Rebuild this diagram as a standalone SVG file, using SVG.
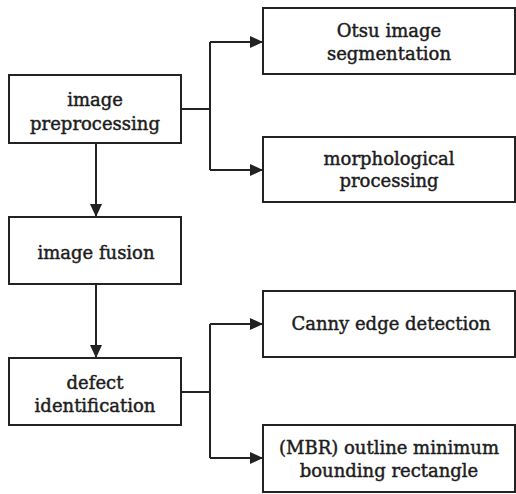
<svg xmlns="http://www.w3.org/2000/svg" width="516" height="494" viewBox="0 0 516 494">
  <style>
    .box { fill: #fff; stroke: #222; stroke-width: 2; }
    .lbl { font-family: "DejaVu Serif", "Liberation Serif", serif; font-size: 18px; fill: #1c1c1c; stroke: #1c1c1c; stroke-width: 0.45; text-anchor: middle; }
    .wire { fill: none; stroke: #222; stroke-width: 2; }
  </style>
  <defs>
    <marker id="arrow" markerUnits="userSpaceOnUse" markerWidth="14" markerHeight="12" refX="13" refY="6" orient="auto">
      <path d="M0,0 L13,6 L0,12 Z" fill="#222"/>
    </marker>
  </defs>
  <rect width="516" height="494" fill="#fff"/>

  <g id="connectors">
    <!-- preprocessing branches -->
    <path class="wire" d="M181,109 H210"/>
    <path class="wire" d="M210,42 V170"/>
    <path class="wire" d="M210,42 H263" marker-end="url(#arrow)"/>
    <path class="wire" d="M210,170 H263" marker-end="url(#arrow)"/>
    <!-- main flow -->
    <path class="wire" d="M96,143 V217" marker-end="url(#arrow)"/>
    <path class="wire" d="M96,284 V358" marker-end="url(#arrow)"/>
    <!-- identification branches -->
    <path class="wire" d="M181,392 H210"/>
    <path class="wire" d="M210,324 V458"/>
    <path class="wire" d="M210,324 H263" marker-end="url(#arrow)"/>
    <path class="wire" d="M210,458 H263" marker-end="url(#arrow)"/>
  </g>

  <g id="preprocessing">
    <rect class="box" x="9" y="75" width="172" height="68"/>
    <text class="lbl" x="95" y="106">image</text>
    <text class="lbl" x="95" y="129.5">preprocessing</text>
  </g>

  <g id="fusion">
    <rect class="box" x="9" y="217" width="172" height="67"/>
    <text class="lbl" x="96" y="258.5">image fusion</text>
  </g>

  <g id="identification">
    <rect class="box" x="9" y="358" width="172" height="67"/>
    <text class="lbl" x="95" y="388.5">defect</text>
    <text class="lbl" x="95" y="412">identification</text>
  </g>

  <g id="otsu">
    <rect class="box" x="263" y="8" width="252" height="66"/>
    <text class="lbl" x="389" y="37">Otsu image</text>
    <text class="lbl" x="389" y="60">segmentation</text>
  </g>

  <g id="morphology">
    <rect class="box" x="263" y="137" width="252" height="65"/>
    <text class="lbl" x="389" y="165">morphological</text>
    <text class="lbl" x="389" y="187">processing</text>
  </g>

  <g id="canny">
    <rect class="box" x="263" y="291" width="252" height="66"/>
    <text class="lbl" x="391" y="330">Canny edge detection</text>
  </g>

  <g id="mbr">
    <rect class="box" x="263" y="425" width="252" height="67"/>
    <text class="lbl" x="389" y="453.5">(MBR) outline minimum</text>
    <text class="lbl" x="389" y="477">bounding rectangle</text>
  </g>
</svg>
